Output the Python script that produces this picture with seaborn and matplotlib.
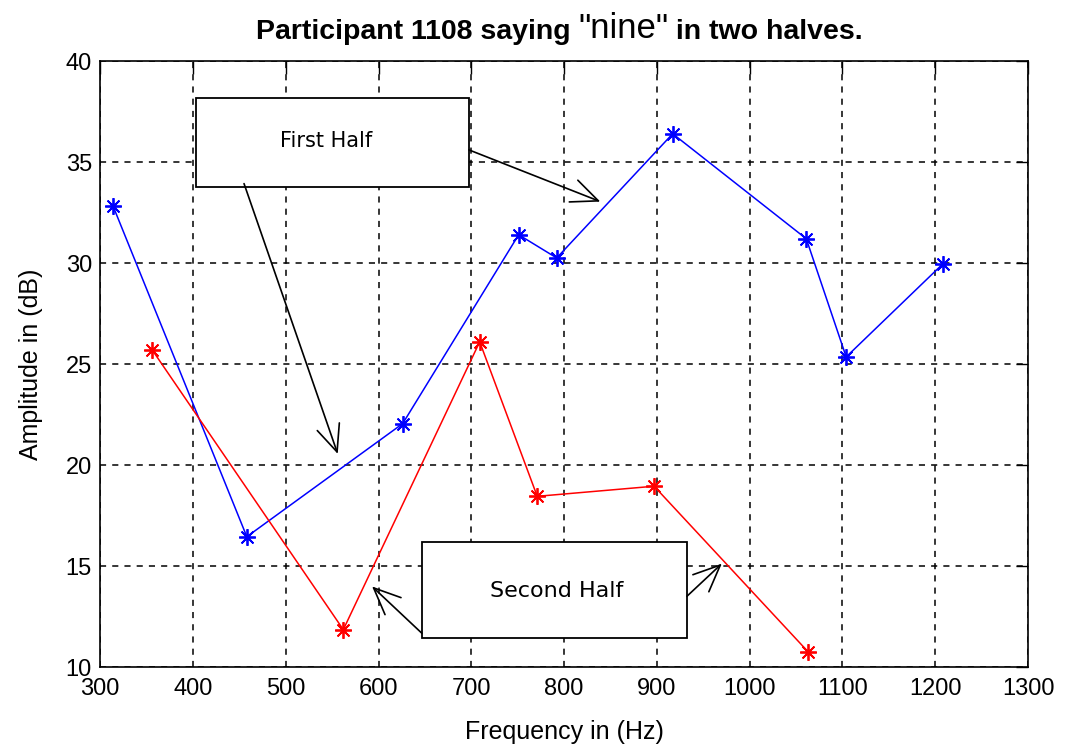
import matplotlib
matplotlib.use("Agg")
import matplotlib.pyplot as plt
from matplotlib.patches import Rectangle
import seaborn as sns
import pandas as pd

# Spectral peaks of the word "nine", split into two halves
first_freq = [314, 458, 626, 751, 792, 917, 1061, 1104, 1208]
first_amp = [32.8, 16.45, 22.05, 31.4, 30.25, 36.4, 31.2, 25.35, 29.95]
second_freq = [356, 562, 709, 771, 897, 1063]
second_amp = [25.7, 11.85, 26.1, 18.45, 18.95, 10.75]

x_ticks = [300, 400, 500, 600, 700, 800, 900, 1000, 1100, 1200, 1300]
y_ticks = [10, 15, 20, 25, 30, 35, 40]

sns.set_theme(style="white")
narrow = ["Liberation Sans Narrow", "Liberation Sans", "DejaVu Sans"]
plt.rcParams["font.family"] = narrow
plt.rcParams["text.color"] = "black"
plt.rcParams["axes.labelcolor"] = "black"
plt.rcParams["xtick.color"] = "black"
plt.rcParams["ytick.color"] = "black"

fig = plt.figure(figsize=(10.65, 7.56), dpi=100)
ax = fig.add_axes([0.0941, 0.1177, 0.8712, 0.8016])

first = pd.DataFrame({"freq": first_freq, "amp": first_amp})
second = pd.DataFrame({"freq": second_freq, "amp": second_amp})
star = (8, 2, 0)
sns.lineplot(data=first, x="freq", y="amp", ax=ax, color="#0000ff", lw=1.1,
             marker=star, markersize=12, markeredgewidth=1.3,
             markeredgecolor="#0000ff", sort=False, estimator=None)
sns.lineplot(data=second, x="freq", y="amp", ax=ax, color="#ff0000", lw=1.1,
             marker=star, markersize=12, markeredgewidth=1.3,
             markeredgecolor="#ff0000", sort=False, estimator=None)

ax.set_xlim(300, 1300)
ax.set_ylim(10, 40)
ax.set_xticks(x_ticks)
ax.set_yticks(y_ticks)
ax.set_xticklabels([str(v) for v in x_ticks], fontsize=17)
ax.set_yticklabels([str(v) for v in y_ticks], fontsize=17)
ax.tick_params(axis="x", direction="in", length=9, width=1, top=True,
               colors="black", pad=8)
ax.tick_params(axis="y", direction="in", length=9, width=1, right=True,
               colors="black", pad=6)
ax.grid(True, color="black", linestyle=(0, (4, 4)), linewidth=1.1)
for s in ax.spines.values():
    s.set_color("black")
    s.set_linewidth(1.2)

ax.set_xlabel("Frequency in (Hz)", fontsize=18, labelpad=14)
ax.set_ylabel("Amplitude in (dB)", fontsize=18, labelpad=16)

# Title: bold text with the spoken word in a larger regular face
t1 = fig.text(0.240, 0.948, "Participant 1108 saying ", fontsize=20.5,
              fontweight="bold", family=narrow, va="baseline", ha="left")
t2 = ax.annotate('"nine"', xy=(1, 0), xycoords=t1, fontsize=25,
                 family=["Liberation Sans", "DejaVu Sans"], va="bottom", ha="left")
t3 = ax.annotate(" in two halves.", xy=(1, 0), xycoords=t2, fontsize=20.5,
                 fontweight="bold", family=narrow, va="bottom", ha="left")

# Annotation boxes
box_font = ["DejaVu Sans"]
ax.add_patch(Rectangle((403.2, 33.78), 294.2, 4.39, facecolor="white",
                       edgecolor="black", lw=1.3, zorder=5, clip_on=False))
ax.text(543, 36.05, "First Half", fontsize=15, family=box_font,
        ha="center", va="center", zorder=6)
ax.add_patch(Rectangle((646.7, 11.42), 285.6, 4.79, facecolor="white",
                       edgecolor="black", lw=1.3, zorder=5, clip_on=False))
ax.text(792, 13.75, "Second Half", fontsize=16, family=box_font,
        ha="center", va="center", zorder=6)

arrow = dict(arrowstyle="->,head_length=1.6,head_width=0.7", color="black",
             lw=1.2, shrinkA=0, shrinkB=0)
ax.annotate("", xy=(556, 20.55), xytext=(455, 33.93), arrowprops=arrow, zorder=7)
ax.annotate("", xy=(839, 33.04), xytext=(697.4, 35.6), arrowprops=arrow, zorder=7)
ax.annotate("", xy=(593, 13.99), xytext=(646.7, 11.67), arrowprops=arrow, zorder=7)
ax.annotate("", xy=(970, 15.12), xytext=(932.3, 13.5), arrowprops=arrow, zorder=7)

fig.savefig("out.png", dpi=100, facecolor="white")
